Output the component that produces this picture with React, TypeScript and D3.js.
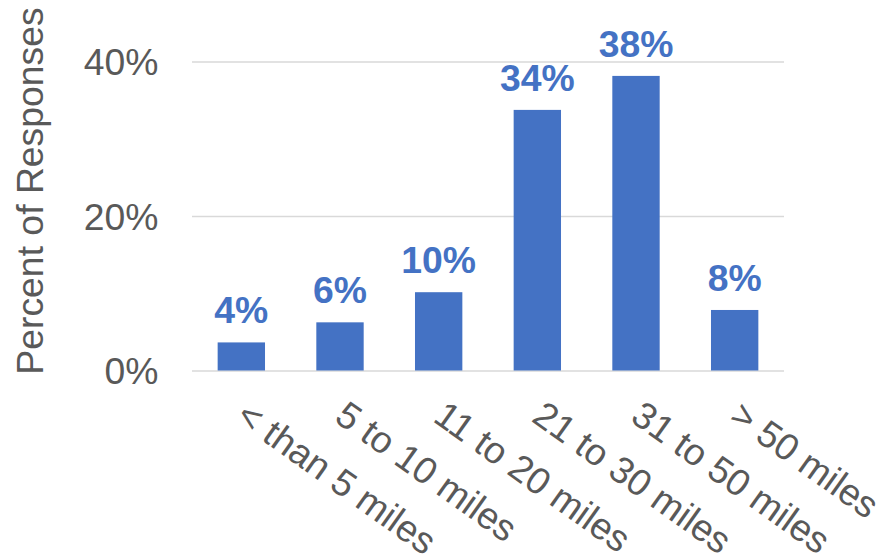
import React from "react";
import * as d3 from "d3";

const categories = [
  "< than 5 miles",
  "5 to 10 miles",
  "11 to 20 miles",
  "21 to 30 miles",
  "31 to 50 miles",
  "> 50 miles",
];
const values = [3.7, 6.3, 10.2, 33.8, 38.2, 7.9];
const yTicks = [0, 20, 40];
const yTitle = "Percent of Responses";

const W = 877;
const H = 558;
const FONT = "'Liberation Sans', Arial, Helvetica, sans-serif";
const FS = 37.33;
const BAR = "#4472C4";
const TEXT = "#595959";
const GRID = "#D9D9D9";

export default function App() {
  const x = d3
    .scaleBand<string>()
    .domain(categories)
    .range([192, 784])
    .paddingInner(0.52)
    .paddingOuter(0.26);
  const y = d3.scaleLinear().domain([0, 40]).range([371, 62]);
  const angle = 35.5;

  return (
    <div style={{ position: "fixed", left: 0, top: 0 }}>
      <svg width={W} height={H} style={{ display: "block", background: "#fff" }}>
        {yTicks.map((t) => (
          <g key={t}>
            <line
              x1={192}
              x2={784}
              y1={y(t)}
              y2={y(t)}
              stroke={GRID}
              strokeWidth={1.6}
            />
            <text
              x={158.5}
              y={y(t) + 13}
              textAnchor="end"
              fontFamily={FONT}
              fontSize={FS}
              fill={TEXT}
            >
              {d3.format(".0f")(t) + "%"}
            </text>
          </g>
        ))}
        <text
          transform={`translate(43,191) rotate(-90)`}
          textAnchor="middle"
          fontFamily={FONT}
          fontSize={FS}
          fill={TEXT}
        >
          {yTitle}
        </text>
        {categories.map((c, i) => {
          const cx = (x(c) as number) + x.bandwidth() / 2;
          return (
            <g key={c}>
              <rect
                x={x(c)}
                y={y(values[i])}
                width={x.bandwidth()}
                height={y(0) - y(values[i]) - 0.5}
                fill={BAR}
              />
              <text
                x={cx}
                y={y(values[i]) - 19}
                textAnchor="middle"
                fontFamily={FONT}
                fontSize={FS}
                fontWeight="bold"
                fill={BAR}
              >
                {Math.round(values[i]) + "%"}
              </text>
              <text
                transform={`translate(${cx - 7},420.5) rotate(${angle})`}
                textAnchor="start"
                fontFamily={FONT}
                fontSize={FS}
                fill={TEXT}
              >
                {c}
              </text>
            </g>
          );
        })}
      </svg>
    </div>
  );
}
